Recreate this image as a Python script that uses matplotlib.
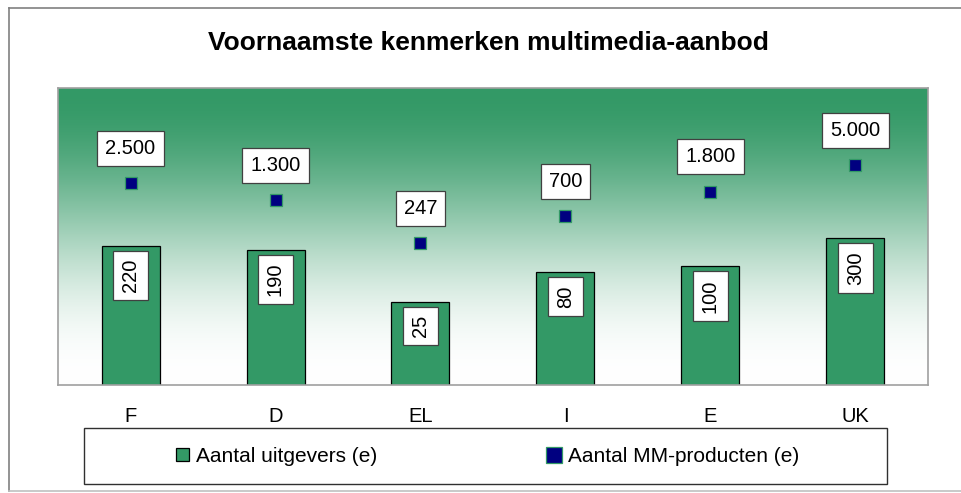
import matplotlib.pyplot as plt
import numpy as np
from matplotlib.lines import Line2D
from matplotlib.patches import Rectangle

plt.rcParams['font.family'] = ['Liberation Sans', 'DejaVu Sans']

countries = ["F", "D", "EL", "I", "E", "UK"]
publishers = [220, 190, 25, 80, 100, 300]
products = [2500, 1300, 247, 700, 1800, 5000]
product_labels = ["2.500", "1.300", "247", "700", "1.800", "5.000"]

green = '#339966'
navy = '#000080'

W, H = 961, 493
fig = plt.figure(figsize=(W / 100, H / 100), dpi=100)

# outer chart frame (runs off the right edge like the original)
fig.add_artist(Line2D([9 / W, 1.01], [1 - 8 / H, 1 - 8 / H], color='#808080', lw=1.2))
fig.add_artist(Line2D([9 / W, 9 / W], [1 - 8 / H, 1 - 491 / H], color='#808080', lw=1.2))
fig.add_artist(Line2D([9 / W, 1.01], [1 - 491 / H, 1 - 491 / H], color='#c0c0c0', lw=1.2))

fig.text(488 / W, 1 - 43 / H, "Voornaamste kenmerken multimedia-aanbod",
         ha='center', va='center', fontsize=19, fontweight='bold')

ax = fig.add_axes([58 / W, 1 - 385 / H, 870 / W, 297 / H])
ax.set_yscale('log', nonpositive='clip')
ax.set_ylim(1, 100000)
ax.set_xlim(-0.5, 5.5)

# gradient background: green at top fading to white
t = np.linspace(0, 1, 400)
s = t * t * (3 - 2 * t)
f = (1 - s) ** 1.2
top = np.array([0.2, 0.6, 0.4])
img = 1 - (1 - top)[None, :] * f[:, None]
ax.imshow(img[:, None, :], extent=[0, 1, 0, 1], transform=ax.transAxes,
          aspect='auto', zorder=0, interpolation='bilinear')

x = np.arange(len(countries))
bars = ax.bar(x, publishers, width=0.4, color=green, edgecolor='black',
              linewidth=0.9, zorder=2, label="Aantal uitgevers (e)")
pts, = ax.plot(x, products, linestyle='none', marker='s', markersize=9,
               markerfacecolor=navy, markeredgecolor=green, markeredgewidth=0.9,
               zorder=3, label="Aantal MM-producten (e)")

box = dict(boxstyle='square,pad=0.4', facecolor='white', edgecolor='#404040', linewidth=0.9)
for xi, v in zip(x, publishers):
    ax.annotate(str(v), (xi, v), xytext=(0, -9.5), textcoords='offset points',
                rotation=90, ha='center', va='top', fontsize=14.5, bbox=box, zorder=4)
for xi, v, lab in zip(x, products, product_labels):
    ax.annotate(lab, (xi, v), xytext=(0, 25), textcoords='offset points',
                ha='center', va='center', fontsize=14.5, bbox=box, zorder=4)

for sp in ax.spines.values():
    sp.set_color('#a0a0a0')
    sp.set_linewidth(1.2)
ax.set_xticks(x)
ax.set_xticklabels(countries, fontsize=14.5)
ax.tick_params(axis='x', length=0, pad=16)
ax.tick_params(axis='y', which='both', left=False, labelleft=False)

# legend box
fig.add_artist(Rectangle((84 / W, 1 - 484 / H), 803 / W, 56 / H, transform=fig.transFigure,
                         facecolor='white', edgecolor='#303030', linewidth=1.0))
fig.legend(handles=[bars, pts], loc='center', bbox_to_anchor=(487.5 / W, 1 - 456 / H),
           ncol=2, frameon=False, fontsize=15, handlelength=0.6, handleheight=0.6,
           handletextpad=0.35, columnspacing=8.2, borderpad=0, markerscale=1.3)

fig.savefig("out.png", dpi=100)
